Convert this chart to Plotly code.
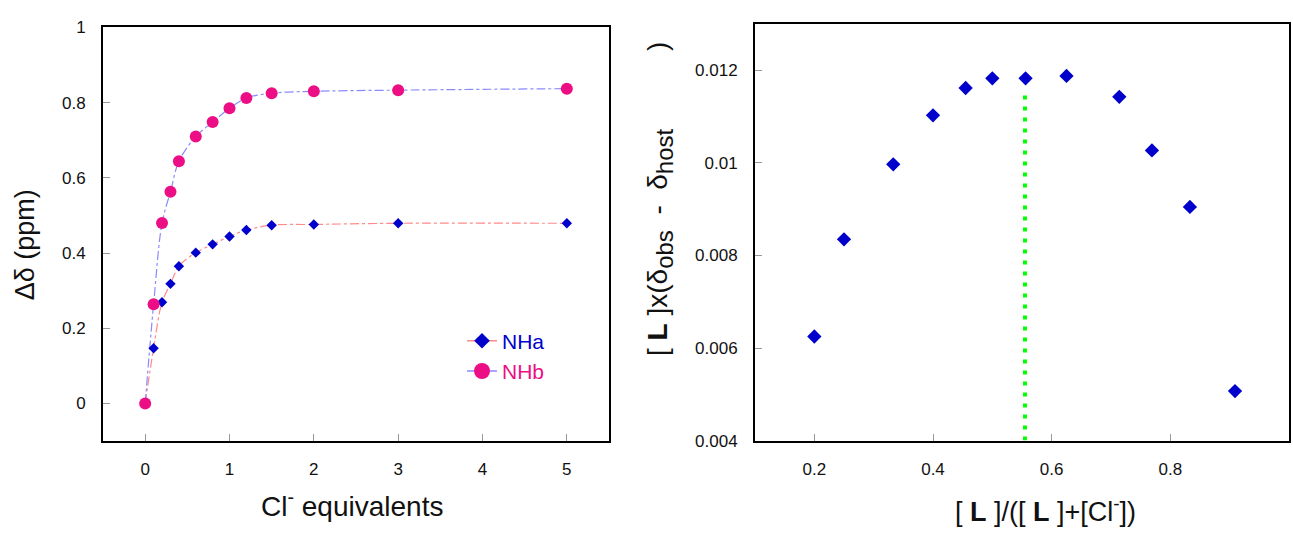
import plotly.graph_objects as go

# ---------------- data ----------------
cl_equiv = [0, 0.1, 0.2, 0.3, 0.4, 0.6, 0.8, 1.0, 1.2, 1.5, 2, 3, 5]
nha_shift = [0, 0.147, 0.269, 0.318, 0.365, 0.401, 0.423, 0.444, 0.461, 0.474, 0.476, 0.479, 0.479]
nhb_shift = [0, 0.264, 0.480, 0.563, 0.644, 0.710, 0.748, 0.785, 0.812, 0.825, 0.830, 0.833, 0.837]

mole_frac = [0.2, 0.25, 0.333, 0.4, 0.455, 0.5, 0.556, 0.625, 0.714, 0.769, 0.833, 0.909]
job_value = [0.00625, 0.00835, 0.00997, 0.01103, 0.01162, 0.01183, 0.01183, 0.01188, 0.01143, 0.01027, 0.00905, 0.00507]
job_line_x = [0.555, 0.555]
job_line_y = [0.004, 0.01152]

left_xticks = [0, 1, 2, 3, 4, 5]
left_yticks = [0, 0.2, 0.4, 0.6, 0.8, 1]
right_xticks = [0.2, 0.4, 0.6, 0.8, 1]
right_yticks = [0.004, 0.006, 0.008, 0.01, 0.012]

# ---------------- style ----------------
W, H = 1293, 535
BLUE = "#0000CC"
PINK = "#EC0E84"
SALMON = "#FF8A8A"
LBLUE = "#8A8AFF"
FONT = "Arial, Liberation Sans, sans-serif"
NB = "\u00a0"

def px_x(p):
    return p / W

def px_y(p):
    return 1 - p / H

fig = go.Figure()

# fit curves (left)
fig.add_trace(go.Scatter(x=cl_equiv, y=nha_shift, mode="lines", line=dict(color=SALMON, width=1.2, dash="dashdot", shape="spline", smoothing=0.9),
                         showlegend=False, xaxis="x", yaxis="y", hoverinfo="skip"))
fig.add_trace(go.Scatter(x=cl_equiv, y=nhb_shift, mode="lines", line=dict(color=LBLUE, width=1.2, dash="dashdot", shape="spline", smoothing=0.9),
                         showlegend=False, xaxis="x", yaxis="y", hoverinfo="skip"))
# data markers (left)
fig.add_trace(go.Scatter(x=cl_equiv, y=nha_shift, mode="markers", marker=dict(symbol="diamond", size=8, color=BLUE),
                         showlegend=False, xaxis="x", yaxis="y"))
fig.add_trace(go.Scatter(x=cl_equiv, y=nhb_shift, mode="markers", marker=dict(symbol="circle", size=12, color=PINK),
                         showlegend=False, xaxis="x", yaxis="y"))
# legend entries
fig.add_trace(go.Scatter(x=[None], y=[None], mode="lines+markers", name=f"<span style='color:{BLUE}'>NHa</span>",
                         line=dict(color=SALMON, width=1.5), marker=dict(symbol="diamond", size=12, color=BLUE),
                         xaxis="x", yaxis="y"))
fig.add_trace(go.Scatter(x=[None], y=[None], mode="lines+markers", name=f"<span style='color:{PINK}'>NHb</span>",
                         line=dict(color=LBLUE, width=1.5), marker=dict(symbol="circle", size=16, color=PINK),
                         xaxis="x", yaxis="y"))

# right plot
fig.add_trace(go.Scatter(x=job_line_x, y=job_line_y, mode="lines", line=dict(color="#00FF00", width=4, dash="4px,7px"),
                         showlegend=False, xaxis="x2", yaxis="y2", hoverinfo="skip"))
fig.add_trace(go.Scatter(x=mole_frac, y=job_value, mode="markers", marker=dict(symbol="diamond", size=11, color=BLUE),
                         showlegend=False, xaxis="x2", yaxis="y2"))

axis_common = dict(showline=True, mirror=True, linecolor="black", linewidth=2, showgrid=False, zeroline=False,
                   ticks="inside", ticklen=7, tickwidth=1, tickcolor="#999999",
                   tickfont=dict(family=FONT, size=17, color="#111111"))

right_ytitle = (f"[{NB}<b>L</b>{NB}]x(δ<sub><span style='font-size:24px'>obs</span></sub>{NB}{NB}-{NB}{NB}"
                f"δ<sub><span style='font-size:24px'>host</span></sub>{NB*10})")

fig.update_layout(
    width=W, height=H,
    margin=dict(l=0, r=0, t=0, b=0),
    paper_bgcolor="white", plot_bgcolor="white",
    xaxis=dict(domain=[px_x(103), px_x(609)], range=[-0.5, 5.5], tickvals=left_xticks, anchor="y",
               ticklabelstandoff=12, **axis_common),
    yaxis=dict(domain=[px_y(448), px_y(19)], range=[-0.1, 1.0], tickvals=left_yticks, anchor="x",
               ticklabelstandoff=12, **axis_common),
    xaxis2=dict(domain=[px_x(755), px_x(1289)], range=[0.1, 1.0], tickvals=right_xticks, anchor="y2",
                ticklabelstandoff=12, **axis_common),
    yaxis2=dict(domain=[px_y(447.5), px_y(15.7)], range=[0.004, 0.013], tickvals=right_yticks, anchor="x2",
                ticklabelstandoff=12, **axis_common),
    legend=dict(x=px_x(462), y=px_y(323), xanchor="left", yanchor="top", bgcolor="rgba(0,0,0,0)",
                font=dict(family=FONT, size=21), tracegroupgap=0, itemsizing="trace"),
    showlegend=True,
    annotations=[
        dict(text="Δδ (ppm)", x=px_x(25), y=px_y(245), xref="paper", yref="paper", showarrow=False,
             textangle=-90, font=dict(family=FONT, size=27, color="#111111"), xanchor="center", yanchor="middle"),
        dict(text="Cl<sup>-</sup> equivalents", x=px_x(352), y=px_y(513), xref="paper", yref="paper", showarrow=False,
             font=dict(family=FONT, size=28, color="#111111"), xanchor="center", yanchor="middle"),
        dict(text=right_ytitle, x=px_x(660), y=px_y(197), xref="paper", yref="paper",
             showarrow=False, textangle=-90, font=dict(family=FONT, size=28, color="#111111"), xanchor="center", yanchor="middle"),
        dict(text=f"[{NB}<b>L</b>{NB}]/([{NB}<b>L</b>{NB}]+[Cl<sup>-</sup>])", x=px_x(1045), y=px_y(519), xref="paper", yref="paper",
             showarrow=False, font=dict(family=FONT, size=27, color="#111111"), xanchor="center", yanchor="middle"),
    ],
)

fig.write_html("out.html")
